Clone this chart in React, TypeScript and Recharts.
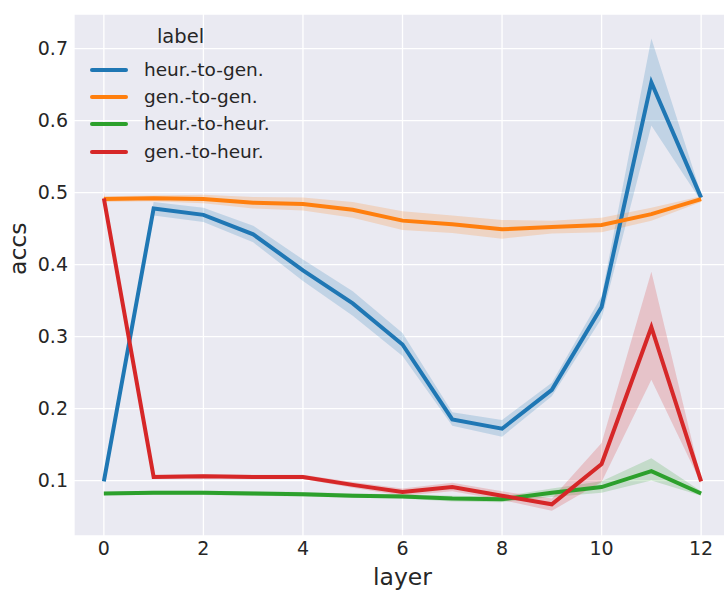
import React from 'react';
import {ComposedChart, Line, Area, XAxis, YAxis, CartesianGrid} from 'recharts';

const layers = [0, 1, 2, 3, 4, 5, 6, 7, 8, 9, 10, 11, 12];

const heurToGen = [0.099, 0.478, 0.469, 0.442, 0.392, 0.346, 0.289, 0.185, 0.172, 0.226, 0.341, 0.653, 0.493];
const heurToGenLo = [0.096, 0.468, 0.459, 0.431, 0.377, 0.329, 0.273, 0.176, 0.161, 0.217, 0.325, 0.593, 0.488];
const heurToGenHi = [0.102, 0.487, 0.479, 0.454, 0.407, 0.363, 0.305, 0.195, 0.184, 0.236, 0.356, 0.714, 0.498];

const genToGen = [0.491, 0.492, 0.491, 0.486, 0.484, 0.476, 0.461, 0.456, 0.449, 0.452, 0.455, 0.470, 0.491];
const genToGenLo = [0.487, 0.488, 0.485, 0.478, 0.475, 0.465, 0.448, 0.444, 0.436, 0.443, 0.445, 0.461, 0.487];
const genToGenHi = [0.495, 0.496, 0.497, 0.494, 0.493, 0.487, 0.474, 0.468, 0.462, 0.461, 0.465, 0.479, 0.495];

const heurToHeur = [0.082, 0.083, 0.083, 0.082, 0.081, 0.079, 0.078, 0.075, 0.074, 0.083, 0.091, 0.113, 0.082];
const heurToHeurLo = [0.080, 0.080, 0.080, 0.079, 0.078, 0.076, 0.075, 0.071, 0.070, 0.077, 0.083, 0.100, 0.079];
const heurToHeurHi = [0.084, 0.086, 0.086, 0.085, 0.084, 0.082, 0.081, 0.079, 0.078, 0.089, 0.099, 0.131, 0.085];

const genToHeur = [0.492, 0.105, 0.106, 0.105, 0.105, 0.094, 0.084, 0.091, 0.079, 0.067, 0.123, 0.313, 0.099];
const genToHeurLo = [0.482, 0.102, 0.103, 0.102, 0.102, 0.090, 0.079, 0.085, 0.073, 0.058, 0.098, 0.240, 0.096];
const genToHeurHi = [0.502, 0.108, 0.109, 0.108, 0.108, 0.098, 0.089, 0.097, 0.085, 0.075, 0.152, 0.390, 0.102];

const xTicks = [0, 2, 4, 6, 8, 10, 12];
const yTicks = [0.1, 0.2, 0.3, 0.4, 0.5, 0.6, 0.7];

const series = [
    {key: 'h2g', name: 'heur.-to-gen.', color: '#1f77b4', mean: heurToGen, lo: heurToGenLo, hi: heurToGenHi},
    {key: 'g2g', name: 'gen.-to-gen.', color: '#ff7f0e', mean: genToGen, lo: genToGenLo, hi: genToGenHi},
    {key: 'h2h', name: 'heur.-to-heur.', color: '#2ca02c', mean: heurToHeur, lo: heurToHeurLo, hi: heurToHeurHi},
    {key: 'g2h', name: 'gen.-to-heur.', color: '#d62728', mean: genToHeur, lo: genToHeurLo, hi: genToHeurHi},
];

const data = layers.map((layer, i) => {
    const row: any = {layer};
    series.forEach(s => {
        row[s.key] = s.mean[i];
        row[s.key + 'Band'] = [s.lo[i], s.hi[i]];
    });
    return row;
});

const FONT = '"DejaVu Sans", sans-serif';
const TEXT = '#262626';

// legend drawn as an overlay so it doesn't eat chart height
const LegendBox = () => (
    <div style={{position: 'absolute', left: 88, top: 26, fontFamily: FONT, color: TEXT, fontSize: 18.5, lineHeight: '22px'}}>
        <div style={{textAlign: 'center', width: 185, marginBottom: 8, fontSize: 19.5}}>label</div>
        {series.map(s => (
            <div key={s.key} style={{display: 'flex', alignItems: 'center', height: 27.3}}>
                <div style={{width: 38, height: 4, background: s.color, borderRadius: 2, marginLeft: 2, marginRight: 16}}/>
                <span>{s.name}</span>
            </div>
        ))}
    </div>
);

const App = () => {
    return (
        <div style={{position: 'absolute', left: 0, top: 0, width: 724, height: 590, overflow: 'hidden', background: '#fff'}}>
            <ComposedChart width={731} height={590} data={data} margin={{top: 14, right: 0, left: 0, bottom: 0}}>
                <CartesianGrid fill="#EAEAF2" stroke="#ffffff" strokeWidth={1.3} strokeOpacity={1}/>
                <XAxis dataKey="layer" type="number" domain={[-0.6, 12.6]} ticks={xTicks} allowDataOverflow
                       height={54} axisLine={false} tickLine={false} tickSize={0} tickMargin={6}
                       tick={{fill: TEXT, fontSize: 19, fontFamily: FONT}}
                       label={{value: 'layer', position: 'insideBottom', offset: 5, fill: TEXT, fontSize: 23.5, fontFamily: FONT}}/>
                <YAxis type="number" domain={[0.023, 0.748]} ticks={yTicks} allowDataOverflow width={74}
                       axisLine={false} tickLine={false} tickSize={0} tickMargin={6}
                       tickFormatter={(v: number) => v.toFixed(1)}
                       tick={{fill: TEXT, fontSize: 19, fontFamily: FONT}}
                       label={{value: 'accs', angle: -90, position: 'insideLeft', offset: 18, fill: TEXT, fontSize: 23.5, fontFamily: FONT}}/>
                {series.map(s => (
                    <Area key={s.key + 'Band'} dataKey={s.key + 'Band'} type="linear" stroke="none"
                          fill={s.color} fillOpacity={0.2} isAnimationActive={false} legendType="none"/>
                ))}
                {series.map(s => (
                    <Line key={s.key} dataKey={s.key} name={s.name} type="linear" stroke={s.color}
                          strokeWidth={4} dot={false} activeDot={false} isAnimationActive={false}/>
                ))}
            </ComposedChart>
            <LegendBox/>
        </div>
    );
};

export default App;
